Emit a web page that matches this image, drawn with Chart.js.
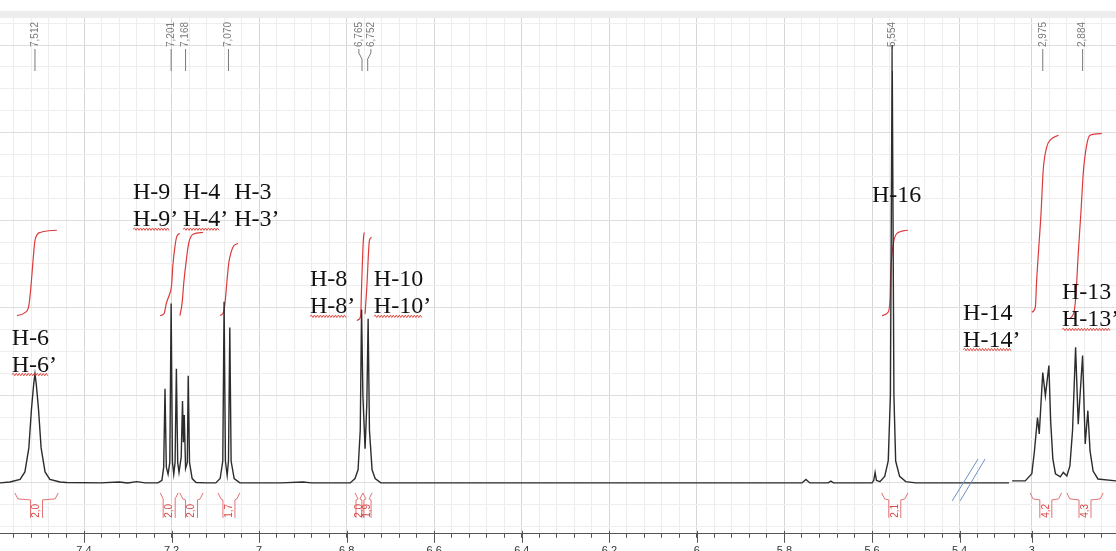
<!DOCTYPE html>
<html>
<head>
<meta charset="utf-8">
<script src="https://cdn.jsdelivr.net/npm/chart.js"></script>
<style>
html, body { margin: 0; padding: 0; background: #fff; overflow: hidden; }
canvas { display: block; }
</style>
</head>
<body>
<canvas id="nmr" width="1116" height="565"></canvas>
<script>
// 1H spectrum: shift (ppm) and relative intensity
const specPpm = [7.592, 7.569, 7.546, 7.535, 7.526, 7.520, 7.515, 7.512, 7.509, 7.504, 7.498, 7.489, 7.478, 7.455, 7.440,
    7.363, 7.320, 7.300, 7.280, 7.260,
    7.231, 7.222, 7.218, 7.215, 7.212, 7.208, 7.204, 7.201, 7.198, 7.195, 7.192, 7.189, 7.186, 7.183, 7.178, 7.175,
    7.173, 7.171, 7.168, 7.164, 7.162, 7.159, 7.153, 7.144, 7.120,
    7.099, 7.089, 7.083, 7.080, 7.077, 7.073, 7.070, 7.067, 7.064, 7.057, 7.044, 6.950, 6.900, 6.880,
    6.792, 6.781, 6.774, 6.769, 6.766, 6.763, 6.758, 6.754, 6.751, 6.748, 6.742, 6.735, 6.722,
    6.400, 6.000, 5.760, 5.751, 5.742, 5.700, 5.694, 5.688, 5.600, 5.596, 5.593, 5.590,
    5.582, 5.571, 5.563, 5.558, 5.554, 5.550, 5.546, 5.537, 5.523, 5.500, 5.287,
    3.045, 3.015, 3.000, 2.994, 2.987, 2.983, 2.975, 2.969, 2.961, 2.957, 2.952, 2.946, 2.935, 2.928, 2.920,
    2.913, 2.907, 2.900, 2.894, 2.884, 2.878, 2.872, 2.867, 2.860, 2.849, 2.807];
const specInt = [0, 0.2, 0.8, 2.5, 8, 16.9, 22.5, 24.9, 22.5, 16.9, 8, 2.5, 0.8, 0.2, 0.1,
    0, 0.2, 0, 0.3, 0,
    0, 0.6, 3.6, 21.5, 3.6, 2.0, 4.7, 41.0, 4.7, 2.0, 4.7, 26.1, 4.7, 2.4, 5.9, 18.7,
    9.3, 15.5, 3.3, 4.7, 24.5, 4.7, 1.0, 0.1, 0,
    0, 1.0, 5, 41.4, 5, 1.7, 5, 35.5, 5, 1.0, 0, 0, 0.2, 0,
    0, 1.0, 3, 12, 39.6, 20, 7.8, 18, 37.5, 12, 3, 1, 0,
    0, 0, 0, 0.8, 0, 0, 0.4, 0, 0, 0.6, 2.4, 0.6,
    0.3, 1.5, 5, 20, 100, 20, 5, 1.5, 0.3, 0, 0,
    0.46, 0.46, 2.1, 7.3, 14.9, 11.2, 25.2, 19.9, 26.8, 14.2, 5.5, 2.1, 1.4, 2.4, 1.6,
    3.9, 11.9, 31.0, 13.4, 29.1, 8.9, 16.5, 7.3, 2.7, 0.9, 0.46];

// integral curves (red), one list per multiplet
const intPpm = [
    [7.553, 7.535, 7.526, 7.521, 7.516, 7.512, 7.500, 7.462],
    [7.226, 7.217, 7.212, 7.205, 7.200, 7.197, 7.192, 7.188, 7.181],
    [7.181, 7.176, 7.172, 7.167, 7.161, 7.151, 7.128],
    [7.089, 7.081, 7.078, 7.074, 7.070, 7.067, 7.059, 7.048],
    [6.777, 6.773, 6.768, 6.766, 6.762, 6.760],
    [6.758, 6.754, 6.748, 6.743],
    [5.577, 5.564, 5.559, 5.557, 5.552, 5.543, 5.518],
    [3.000, 2.992, 2.989, 2.985, 2.979, 2.974, 2.966, 2.958, 2.939],
    [2.913, 2.903, 2.899, 2.894, 2.888, 2.882, 2.874, 2.867, 2.840]
];
const intVal = [
    [38.2, 38.9, 40.5, 45.1, 51.3, 55.4, 57.2, 57.7],
    [38.2, 38.7, 41.0, 43.0, 45.1, 49.7, 54.2, 56.3, 57.0],
    [38.2, 41.0, 45.8, 50.3, 54.7, 56.8, 57.2],
    [38.2, 39.1, 41.0, 45.5, 49.7, 51.5, 54.0, 54.7],
    [37.1, 37.3, 38.2, 44.6, 55.4, 57.2],
    [38.6, 44.7, 55.4, 56.1],
    [38.2, 38.9, 41.6, 48.5, 54.2, 57.0, 57.7],
    [39.0, 40.1, 46.2, 52.4, 61.5, 71.4, 76.7, 78.3, 79.4],
    [37.5, 39.4, 43.2, 52.3, 61.5, 71.4, 77.5, 79.4, 79.8]
];

// integration ranges and values under the baseline
const intFrom = [7.558, 7.226, 7.181, 7.094, 6.781, 6.763, 5.578, 3.004, 2.920];
const intTo = [7.459, 7.185, 7.128, 7.044, 6.763, 6.742, 5.518, 2.932, 2.837];
const intLabel = ["2,0", "2,0", "2,0", "1,7", "2,0", "1,9", "2,1", "4,2", "4,3"];

// picked peaks
const pickPpm = [7.512, 7.201, 7.168, 7.070, 6.765, 6.752, 5.554, 2.975, 2.884];

// assignments
const labelTop = ["H-6", "H-9", "H-4", "H-3", "H-8", "H-10", "H-16", "H-14", "H-13"];
const labelBottom = ["H-6’", "H-9’", "H-4’", "H-3’", "H-8’", "H-10’", "", "H-14’", "H-13’"];
const labelPpm = [7.565, 7.288, 7.174, 7.057, 6.884, 6.738, 5.600, 5.392, 2.931];
const labelInt = [31.6, 64.8, 64.8, 64.8, 44.9, 44.9, 64.1, 37.3, 41.9];
const underlined = [true, true, true, false, true, true, false, true, true];

// axis
const majorTicks = [7.4, 7.2, 7.0, 6.8, 6.6, 6.4, 6.2, 6.0, 5.8, 5.6, 5.4, 3.0];
const tickSpans = [[7.56, 5.32], [3.04, 2.84]];
const BREAK_SHIFT = 2.235;   // 3.0 ppm sits right after the cut at 5.3 ppm
const breakAt = 5.417;

const toAxis = p => (p < 4 ? p + BREAK_SHIFT : p);
const toPts = (ps, vs) => ps.map((p, i) => ({ x: toAxis(p), y: vs[i] }));

function buildTicks(scale) {
    const out = [];
    tickSpans.forEach(([hi, lo]) => {
        for (let k = Math.round(hi / 0.04); k >= Math.round(lo / 0.04); k--) {
            const ppm = +(k * 0.04).toFixed(2);
            const big = majorTicks.some(m => Math.abs(m - ppm) < 1e-6);
            out.push({ value: toAxis(ppm), ppm, big });
        }
    });
    out.sort((a, b) => a.value - b.value);
    scale.ticks = out;
}

function wavy(ctx, x0, x1, y) {
    ctx.beginPath();
    ctx.moveTo(x0, y);
    let up = true;
    for (let x = x0 + 1.5; x <= x1; x += 1.5) {
        ctx.lineTo(x, y + (up ? -1.2 : 1.2));
        up = !up;
    }
    ctx.stroke();
}

const decor = {
    id: "decor",
    beforeDraw(chart) {
        const { ctx, width, height, chartArea } = chart;
        ctx.save();
        ctx.fillStyle = "#fff";
        ctx.fillRect(0, 0, width, height);
        ctx.fillStyle = "#ededed";
        ctx.fillRect(0, chartArea.top - 7, width, 7);
        ctx.restore();
    },
    afterDraw(chart) {
        const { ctx, chartArea } = chart;
        const xs = chart.scales.x, ys = chart.scales.y;
        const px = p => xs.getPixelForValue(toAxis(p));
        const base = ys.getPixelForValue(0);
        const top = chartArea.top;
        ctx.save();

        // longer marks on the labelled ticks
        ctx.strokeStyle = "#555";
        ctx.lineWidth = 1;
        xs.ticks.forEach(t => {
            if (!t.big) return;
            const x = Math.round(xs.getPixelForValue(t.value)) + 0.5;
            ctx.beginPath();
            ctx.moveTo(x, chartArea.bottom - 3);
            ctx.lineTo(x, chartArea.bottom + 9);
            ctx.stroke();
        });

        // peak pick labels
        const pos = pickPpm.map(px);
        const lab = pos.slice();
        for (let i = 1; i < pos.length; i++) {
            if (pos[i] - pos[i - 1] < 10) {
                const m = (pos[i] + pos[i - 1]) / 2;
                lab[i - 1] = m - 6;
                lab[i] = m + 6;
            }
        }
        ctx.strokeStyle = "#7a7a7a";
        ctx.fillStyle = "#7a7a7a";
        ctx.font = '10px "Liberation Sans", Arial, sans-serif';
        pickPpm.forEach((p, i) => {
            ctx.beginPath();
            ctx.moveTo(lab[i], top + 31);
            ctx.lineTo(lab[i], top + 35);
            ctx.lineTo(pos[i], top + 41);
            ctx.lineTo(pos[i], top + 53);
            ctx.stroke();
            ctx.save();
            ctx.translate(lab[i], top + 29);
            ctx.rotate(-Math.PI / 2);
            ctx.textAlign = "left";
            ctx.textBaseline = "middle";
            ctx.fillText(p.toFixed(3).replace(".", ","), 0, 0);
            ctx.restore();
        });

        // integration brackets
        ctx.strokeStyle = "#e27474";
        ctx.fillStyle = "#d84848";
        ctx.font = '10px "Liberation Sans", Arial, sans-serif';
        intFrom.forEach((a, i) => {
            const xa = px(a), xb = px(intTo[i]);
            const c = (xa + xb) / 2, g = Math.min(6, (xb - xa) / 2 - 1);
            const y0 = base + 10, y1 = base + 16, y2 = base + 35;
            ctx.beginPath();
            ctx.moveTo(xa, y0); ctx.lineTo(xa + 3, y1); ctx.lineTo(c - g, y1 + 1); ctx.lineTo(c - g, y2);
            ctx.moveTo(xb, y0); ctx.lineTo(xb - 3, y1); ctx.lineTo(c + g, y1 + 1); ctx.lineTo(c + g, y2);
            ctx.stroke();
            ctx.save();
            ctx.translate(c, base + 28);
            ctx.rotate(-Math.PI / 2);
            ctx.textAlign = "center";
            ctx.textBaseline = "middle";
            ctx.fillText(intLabel[i], 0, 0);
            ctx.restore();
        });

        // axis break
        const bx = xs.getPixelForValue(breakAt);
        ctx.strokeStyle = "#6b93c6";
        ctx.beginPath();
        ctx.moveTo(bx, base + 18); ctx.lineTo(bx + 26, base - 24);
        ctx.moveTo(bx + 8, base + 18); ctx.lineTo(bx + 33, base - 24);
        ctx.stroke();

        // assignments
        ctx.font = '24px "Liberation Serif", "Times New Roman", serif';
        ctx.textAlign = "left";
        ctx.textBaseline = "alphabetic";
        labelTop.forEach((t, i) => {
            const lx = px(labelPpm[i]), ly = ys.getPixelForValue(labelInt[i]);
            ctx.fillStyle = "#111";
            ctx.fillText(t, lx, ly);
            if (labelBottom[i]) {
                ctx.fillText(labelBottom[i], lx, ly + 27);
                if (underlined[i]) {
                    ctx.strokeStyle = "#e03a30";
                    ctx.lineWidth = 0.9;
                    wavy(ctx, lx, lx + ctx.measureText(t).width, ly + 30);
                }
            }
        });
        ctx.restore();
    }
};

const spec = toPts(specPpm, specInt);
const lineStyle = { borderColor: "#2c2c2c", borderWidth: 1.4 };
const datasets = [
    { data: spec.filter((_, i) => specPpm[i] >= 4), ...lineStyle },
    { data: spec.filter((_, i) => specPpm[i] < 4), ...lineStyle }
].concat(intPpm.map((ps, i) => ({
    data: toPts(ps, intVal[i]),
    borderColor: "#dc3a3a",
    borderWidth: 1.2,
    cubicInterpolationMode: "monotone"
})));

new Chart(document.getElementById("nmr"), {
    type: "line",
    data: { datasets },
    options: {
        responsive: false,
        animation: false,
        devicePixelRatio: 1,
        layout: { padding: { top: 18, left: 0, right: 0, bottom: 0 } },
        elements: { point: { radius: 0 }, line: { tension: 0 } },
        plugins: { legend: { display: false }, tooltip: { enabled: false } },
        scales: {
            x: {
                type: "linear",
                reverse: true,
                min: 5.0427,
                max: 7.5919,
                afterBuildTicks: buildTicks,
                ticks: {
                    autoSkip: false,
                    maxRotation: 0,
                    padding: 7,
                    color: "#333",
                    font: { family: "Liberation Sans", size: 11 },
                    callback: (v, i, ticks) => (ticks[i] && ticks[i].big ? String(+ticks[i].ppm.toFixed(1)) : "")
                },
                grid: {
                    color: c => (c.tick && c.tick.big ? "#d6d6d6" : "#ededed"),
                    tickColor: "#555",
                    tickLength: 4
                },
                border: { display: true, color: "#555", width: 1 }
            },
            y: {
                min: -11.62,
                max: 106.18,
                afterBuildTicks: scale => {
                    const t = [];
                    for (let v = -10; v <= 105; v += 5) t.push({ value: v });
                    scale.ticks = t;
                },
                ticks: { display: false },
                grid: {
                    drawTicks: false,
                    color: c => (c.tick && c.tick.value % 20 === 0 ? "#dedede" : "#eeeeee")
                },
                border: { display: false }
            }
        }
    },
    plugins: [decor]
});
</script>
</body>
</html>
